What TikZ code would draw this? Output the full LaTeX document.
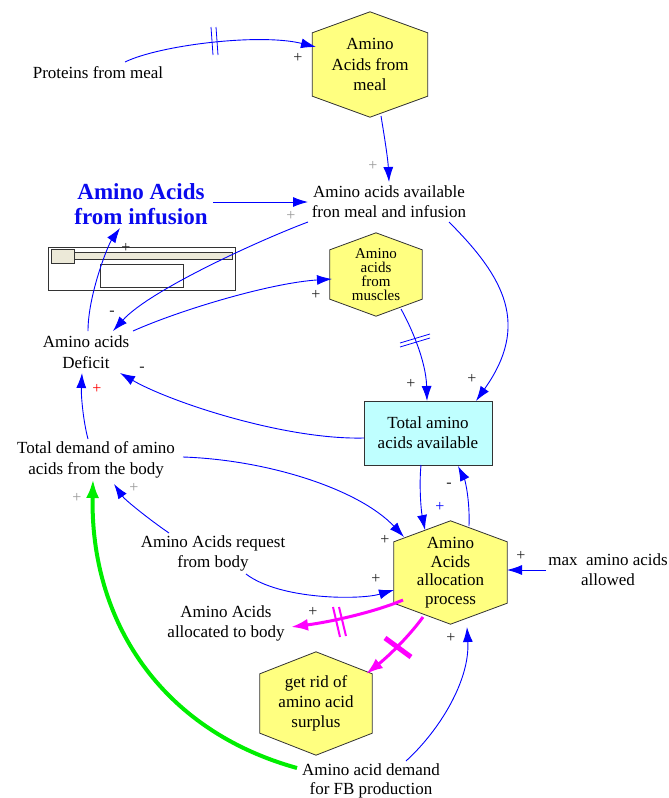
\documentclass[tikz,border=0pt]{standalone}
\usepackage{fontspec}
\setmainfont{Liberation Serif}
\usetikzlibrary{arrows.meta,backgrounds}
\definecolor{hexy}{HTML}{FFFF80}
\definecolor{boxc}{HTML}{BFFFFF}
\definecolor{edgeg}{HTML}{333333}
\definecolor{signg}{HTML}{222222}
\definecolor{lgray}{HTML}{999999}
\definecolor{mag}{HTML}{FF00FF}
\definecolor{grn}{HTML}{00EE00}
\definecolor{beige}{HTML}{ECE9D8}
\definecolor{infblue}{HTML}{0A0AEE}
\newcommand\HexOutline[2]{\fill[hexshape] (#1.north) -- ([yshift=-#2]#1.north east) -- ([yshift=#2]#1.south east) -- (#1.south) -- ([yshift=#2]#1.south west) -- ([yshift=-#2]#1.north west) -- cycle;}
\begin{document}
\begin{tikzpicture}[x=1pt,y=-1pt,
  txt/.style={font=\fontsize{17}{20}\selectfont, align=center, inner sep=0pt, text=black},
  sgnd/.style={font=\fontsize{16}{16}\selectfont, text=signg, inner sep=0pt},
  sgnl/.style={sgnd, text=lgray},
  flow/.style={draw=blue, line width=0.9pt, -{Latex[length=15pt,width=10pt]}},
  mflow/.style={draw=mag, line width=3pt, -{Latex[length=17pt,width=12pt]}},
  gflow/.style={draw=grn, line width=4pt, -{Latex[length=19pt,width=13pt]}},
  hexshape/.style={fill=hexy, draw=edgeg, line width=0.8pt}
]
\useasboundingbox (0,0) rectangle (669,798);

% slider widget
\draw[edgeg, fill=white, line width=0.8pt] (48,247) rectangle (235,290);
\draw[edgeg, fill=beige, line width=0.8pt] (51,252) rectangle (232,259);
\draw[edgeg, fill=beige, line width=0.9pt] (51,249) rectangle (74,263);
\draw[edgeg, line width=0.8pt] (100,264) rectangle (183,287);

% nodes
\node[txt] (prot) at (98,73) {Proteins from meal};
\node[txt, minimum width=115pt, minimum height=105pt, font=\fontsize{17}{20.5}\selectfont] (meal) at (370,64.5) {Amino\\Acids from\\meal};
\node[txt] (avail) at (389,202) {Amino acids available\\fron meal and infusion};
\node[txt, font=\fontsize{23}{25}\bfseries, text=infblue] (inf) at (141,204.5) {Amino Acids\\from infusion};
\node[txt, font=\fontsize{17}{21}\selectfont] (deficit) at (86,352.5) {Amino acids\\Deficit};
\node[txt, minimum width=92pt, minimum height=83pt, font=\fontsize{15}{14.2}\selectfont] (mus) at (376,274.5) {Amino\\acids\\from\\muscles};
\node[txt, draw=edgeg, fill=boxc, line width=0.8pt, minimum width=128pt, minimum height=64pt] (tot) at (428,433) {Total amino\\acids available};
\node[txt, font=\fontsize{17}{21}\selectfont] (td) at (96,459.5) {Total demand of amino\\acids from the body};
\node[txt] (req) at (213,553) {Amino Acids request\\from body};
\node[txt, minimum width=113pt, minimum height=103pt, font=\fontsize{17}{18.5}\selectfont] (alloc) at (450.5,572.5) {Amino\\Acids\\allocation\\process};
\node[txt] (max) at (608,570) {max\ \ amino acids\\allowed};
\node[txt] (allocd) at (226,623) {Amino Acids\\allocated to body};
\node[txt, minimum width=112pt, minimum height=103pt] (getrid) at (316,703.5) {get rid of\\amino acid\\surplus};
\node[txt, font=\fontsize{17}{19}\selectfont] (fb) at (371,780.5) {Amino acid demand\\for FB production};

\begin{scope}[on background layer]
\HexOutline{meal}{21pt}
\HexOutline{mus}{17pt}
\HexOutline{alloc}{21pt}
\HexOutline{getrid}{22pt}
\end{scope}

% connectors
\draw[flow] ([shift={(27,-11)}]prot.center) .. controls (160,45) and (260,33) .. ([shift={(-54,-17.5)}]meal.center);
\draw[flow] ([shift={(11,51.5)}]meal.center) .. controls (385,140) and (388,160) .. ([shift={(0,-20)}]avail.center);
\draw[flow] ([shift={(72,-2.5)}]inf.center) -- ([shift={(-81,0)}]avail.center);
\draw[flow] ([shift={(-81,20)}]avail.center) .. controls (260,240) and (150,290) .. ([shift={(27,-21.5)}]deficit.center);
\draw[flow] ([shift={(2,-21.5)}]deficit.center) .. controls (88,295) and (108,245) .. ([shift={(-21,23.5)}]inf.center);
\draw[flow] ([shift={(47,-21.5)}]deficit.center) .. controls (180,310) and (270,283) .. ([shift={(-44,4.5)}]mus.center);
\draw[flow] ([shift={(25,34.5)}]mus.center) .. controls (410,325) and (426,360) .. ([shift={(-1,-32)}]tot.center);
\draw[flow] ([shift={(60,20)}]avail.center) .. controls (505,278) and (530,325) .. ([shift={(48,-32)}]tot.center);
\draw[flow] ([shift={(-64,5)}]tot.center) .. controls (285,440) and (170,402) .. ([shift={(34,20.5)}]deficit.center);
\draw[flow] ([shift={(-8,-20.5)}]td.center) .. controls (83,420) and (81,395) .. ([shift={(-4,20.5)}]deficit.center);
\draw[flow] ([shift={(87,-2.5)}]td.center) .. controls (270,460) and (360,490) .. ([shift={(-46.5,-35.5)}]alloc.center);
\draw[flow] ([shift={(-44,-20)}]req.center) .. controls (150,520) and (125,500) .. ([shift={(18,24.5)}]td.center);
\draw[flow] ([shift={(33,21)}]req.center) .. controls (280,600) and (360,600) .. ([shift={(-56.5,17.5)}]alloc.center);
\draw[flow] ([shift={(-62,0)}]max.center) -- ([shift={(56.5,-2.5)}]alloc.center);
\draw[flow] ([shift={(-7,32)}]tot.center) .. controls (419,485) and (421,510) .. ([shift={(-25.5,-42.5)}]alloc.center);
\draw[flow] ([shift={(18.5,-46.5)}]alloc.center) .. controls (470,500) and (465,480) .. ([shift={(30,33)}]tot.center);
\draw[mflow] ([shift={(-47.5,27.5)}]alloc.center) .. controls (375,612) and (330,622) .. ([shift={(65,4)}]allocd.center);
\draw[mflow] ([shift={(-27.5,44.5)}]alloc.center) .. controls (410,635) and (390,655) .. ([shift={(50,-29.5)}]getrid.center);
\draw[gflow] ([shift={(-74,-12.5)}]fb.center) .. controls (160,730) and (90,620) .. ([shift={(-3,19.5)}]td.center);
\draw[flow] ([shift={(35,-19.5)}]fb.center) .. controls (440,730) and (470,680) .. ([shift={(16.5,54.5)}]alloc.center);

% delay marks
\draw[blue, line width=0.8pt] (211,27) -- (213,55) (216,27) -- (218,55);
\draw[blue, line width=0.8pt] (400,343) -- (430,334) (400,347) -- (430,338);
\draw[mag, line width=2pt] (333,607) -- (340,637) (339,607) -- (346,636);
\draw[mag, line width=5pt] (385,638) -- (411,657);

% polarity signs
\node[sgnd] (p1) at (298,58) {+};
\node[sgnl] (p2) at (373,166) {+};
\node[sgnl] (p3) at (291,216) {+};
\node[sgnd] (p4) at (126,248) {+};
\node[sgnd] (m1) at (112,313) {-};
\node[sgnd] (p5) at (316,295) {+};
\node[sgnd] (p6) at (411,384) {+};
\node[sgnd] (p7) at (472,379) {+};
\node[sgnd] (m2) at (142,369) {-};
\node[sgnd, text=red] (p8) at (97,389) {+};
\node[sgnl] (p9) at (134,488) {+};
\node[sgnl] (p10) at (77,498) {+};
\node[sgnd] (m3) at (449,485) {-};
\node[sgnd, text=blue] (p11) at (440,507) {+};
\node[sgnd] (p12) at (385,540) {+};
\node[sgnd] (p13) at (376,579) {+};
\node[sgnd] (p14) at (521,556) {+};
\node[sgnd] (p15) at (313,612) {+};
\node[sgnd] (p16) at (451,638) {+};
\end{tikzpicture}
\end{document}
